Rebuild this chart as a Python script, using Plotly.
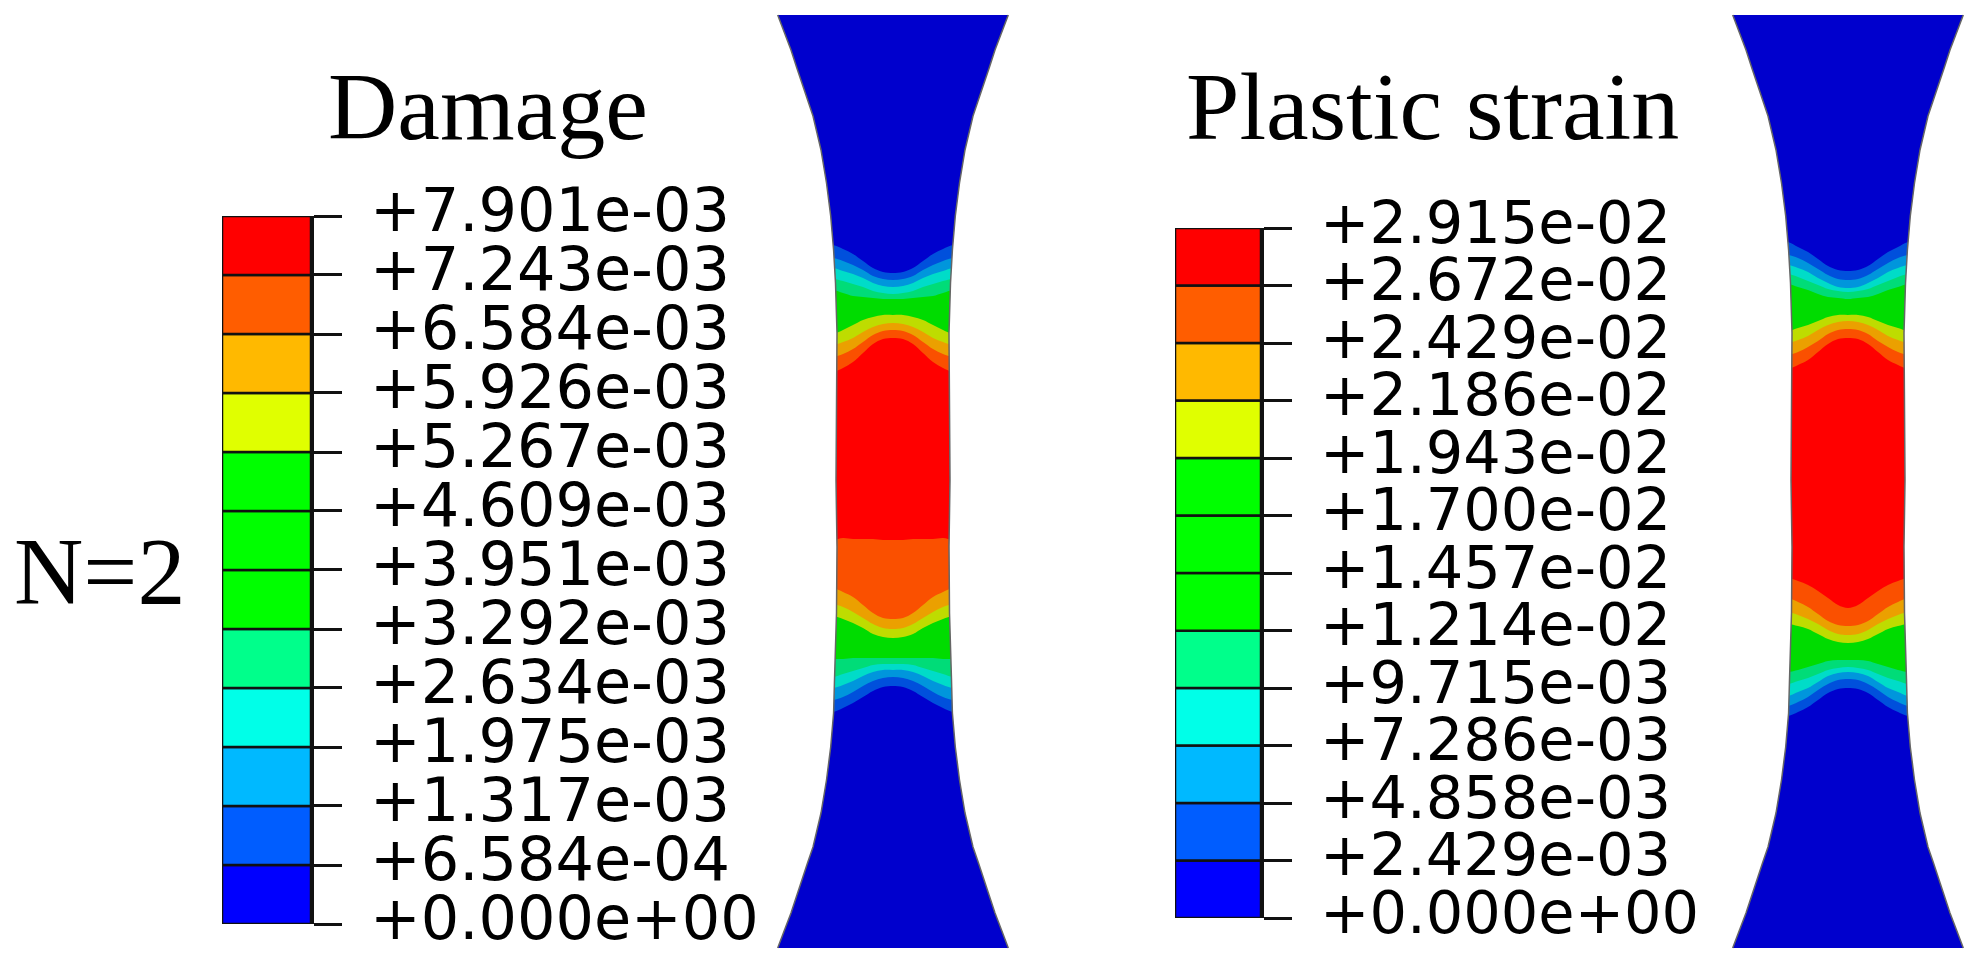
import plotly.graph_objects as go

W = 1983
H = 966

# contour levels, lowest first
damage_levels = [0.0, 6.584e-04, 1.317e-03, 1.975e-03, 2.634e-03, 3.292e-03, 3.951e-03,
                 4.609e-03, 5.267e-03, 5.926e-03, 6.584e-03, 7.243e-03, 7.901e-03]
damage_labels = ["+0.000e+00", "+6.584e-04", "+1.317e-03", "+1.975e-03", "+2.634e-03",
                 "+3.292e-03", "+3.951e-03", "+4.609e-03", "+5.267e-03", "+5.926e-03",
                 "+6.584e-03", "+7.243e-03", "+7.901e-03"]
strain_levels = [0.0, 2.429e-03, 4.858e-03, 7.286e-03, 9.715e-03, 1.214e-02, 1.457e-02,
                 1.700e-02, 1.943e-02, 2.186e-02, 2.429e-02, 2.672e-02, 2.915e-02]
strain_labels = ["+0.000e+00", "+2.429e-03", "+4.858e-03", "+7.286e-03", "+9.715e-03",
                 "+1.214e-02", "+1.457e-02", "+1.700e-02", "+1.943e-02", "+2.186e-02",
                 "+2.429e-02", "+2.672e-02", "+2.915e-02"]
bar_colors = ["#0000FF", "#005DFF", "#00B9FF", "#00FFE8", "#00FF8B", "#00FF00",
              "#00FF00", "#00FF00", "#E0FF00", "#FFB900", "#FF5D00", "#FF0000"]

# specimen outline: height and half width
edge_y = [15, 33, 50, 67, 83, 100, 116, 133, 150, 183, 216, 250, 283, 333, 480, 547,
          613, 680, 713, 747, 780, 813, 830, 847, 863, 880, 896, 913, 930, 948]
edge_hw = [115.3, 108.5, 102, 96.5, 91, 85.5, 80, 76, 72, 66.5, 62.3, 59.4, 57.5, 56, 57, 56,
           56.5, 58.5, 59.4, 62.3, 66.5, 72, 76, 80, 85.5, 91, 96.5, 102, 108.5, 115.3]

# horizontal distance from the specimen axis where band boundaries were read
band_dx = [0, 10, 20, 30, 40, 50, 60]

# band fills from the outer band to the inner one
band_colors = ["#0050DC", "#0096DC", "#00DCC8", "#00DC78", "#00DC00", "#BEDC00",
               "#EBA000", "#FA5000", "#FF0000"]

# upper and lower boundary of each band, same order as band_colors
damage_upper = [
    [273, 272, 268, 261, 254, 249, 245],
    [280, 279, 276, 270, 265, 261, 258],
    [287, 286, 283, 278, 274, 271, 268],
    [294, 293, 291, 287, 284, 281, 279],
    [299, 299, 298, 297, 296, 293, 290],
    [315, 315, 317, 320, 325, 330, 334],
    [323, 324, 327, 332, 338, 342, 345],
    [330, 331, 335, 342, 349, 354, 357],
    [338, 339, 344, 353, 362, 368, 372],
]
damage_lower = [
    [686, 687, 691, 697, 703, 708, 712],
    [677, 678, 681, 686, 692, 697, 700],
    [670, 670, 672, 676, 681, 685, 688],
    [664, 664, 665, 668, 671, 674, 677],
    [658, 658, 658, 658, 658, 659, 659],
    [638, 637, 634, 628, 623, 619, 616],
    [629, 628, 624, 618, 612, 607, 604],
    [619, 618, 613, 605, 597, 592, 588],
    [540, 540, 539, 539, 539, 538, 540],
]
strain_upper = [
    [271, 270, 266, 259, 252, 247, 242],
    [280, 279, 275, 269, 263, 258, 255],
    [288, 287, 283, 278, 272, 268, 265],
    [292, 291, 289, 285, 281, 277, 274],
    [299, 298, 297, 294, 290, 287, 284],
    [315, 315, 317, 321, 325, 328, 331],
    [321, 322, 325, 330, 336, 340, 343],
    [329, 330, 334, 341, 347, 352, 355],
    [338, 339, 344, 352, 360, 365, 369],
]
strain_lower = [
    [688, 689, 693, 700, 707, 712, 716],
    [679, 680, 684, 690, 697, 702, 706],
    [672, 673, 676, 682, 688, 692, 696],
    [667, 668, 670, 674, 678, 681, 684],
    [660, 660, 661, 664, 667, 670, 672],
    [643, 642, 639, 634, 629, 626, 624],
    [635, 634, 630, 624, 619, 615, 612],
    [626, 625, 621, 614, 607, 602, 598],
    [608, 605, 598, 591, 585, 581, 578],
]


def add_specimen(fig, cx, upper, lower):
    # blue block first, bands on top, then white covers cut the outline
    fig.add_trace(go.Scatter(
        x=[cx - 125, cx + 125, cx + 125, cx - 125, cx - 125],
        y=[edge_y[0], edge_y[0], edge_y[-1], edge_y[-1], edge_y[0]],
        mode="lines", fill="toself", fillcolor="#0000CD", line=dict(width=0),
        hoverinfo="skip", showlegend=False))
    for color, top, bottom in zip(band_colors, upper, lower):
        xs = [cx - 75] + [cx - d for d in band_dx[::-1][:-1]] + [cx + d for d in band_dx] + [cx + 75]
        ys = [top[-1]] + top[::-1][:-1] + top + [top[-1]]
        xb = xs[::-1]
        yb = [bottom[-1]] + bottom[::-1][:-1] + bottom + [bottom[-1]]
        fig.add_trace(go.Scatter(
            x=xs + xb, y=ys + yb, mode="lines", fill="toself", fillcolor=color,
            line=dict(width=0, shape="spline"), hoverinfo="skip", showlegend=False))
    for side in (-1, 1):
        xm = [cx + side * hw for hw in edge_hw]
        fig.add_trace(go.Scatter(
            x=xm + [cx + side * 135, cx + side * 135, xm[0]],
            y=edge_y + [edge_y[-1] + 1, edge_y[0] - 1, edge_y[0]],
            mode="lines", fill="toself", fillcolor="white", line=dict(width=0),
            hoverinfo="skip", showlegend=False))
        fig.add_trace(go.Scatter(
            x=xm, y=edge_y, mode="lines", line=dict(color="#666666", width=1.5),
            hoverinfo="skip", showlegend=False))


def add_scale(fig, n, levels, labels, px_left, px_right, px_top, px_bottom, label_x, size, shift):
    fig.add_trace(go.Bar(
        x=[0] * (len(levels) - 1),
        base=levels[:-1],
        y=[b - a for a, b in zip(levels[:-1], levels[1:])],
        width=1,
        marker=dict(color=bar_colors, line=dict(color="#111111", width=2.5)),
        cliponaxis=False, hoverinfo="skip", showlegend=False,
        xaxis="x%d" % n, yaxis="y%d" % n))
    fig.update_layout({
        "xaxis%d" % n: dict(domain=[px_left / W, px_right / W], range=[-0.5, 0.5], visible=False,
                            anchor="y%d" % n),
        "yaxis%d" % n: dict(domain=[1 - px_bottom / H, 1 - px_top / H], range=[levels[0], levels[-1]],
                            anchor="x%d" % n, side="right", showgrid=False, zeroline=False,
                            showline=True, linecolor="#111111", linewidth=2.5,
                            tickmode="array", tickvals=levels, ticktext=[""] * len(levels),
                            ticks="outside", ticklen=28, tickwidth=2.5, tickcolor="#111111"),
    })
    for level, label in zip(levels, labels):
        fig.add_annotation(
            x=label_x / W, xref="paper", xanchor="left", y=level, yref="y%d" % n, yanchor="middle",
            yshift=shift, text=label, showarrow=False,
            font=dict(family="DejaVu Sans", size=size, color="black"))


fig = go.Figure()
add_specimen(fig, 893, damage_upper, damage_lower)
add_specimen(fig, 1848, strain_upper, strain_lower)
add_scale(fig, 2, damage_levels, damage_labels, 222, 311, 216, 924, 368, 60.5, 6)
add_scale(fig, 3, strain_levels, strain_labels, 1175, 1261, 228, 918, 1318, 59, 6)

titles = [("Damage", 488, 106), ("Plastic strain", 1432, 106), ("N=2", 99, 571)]
for text, tx, ty in titles:
    fig.add_annotation(x=tx, y=ty, text=text, showarrow=False, xanchor="center", yanchor="middle",
                       font=dict(family="Liberation Serif", size=96, color="black"))

fig.update_layout(
    width=W, height=H,
    margin=dict(l=0, r=0, t=0, b=0),
    paper_bgcolor="white", plot_bgcolor="white",
    barmode="overlay",
    xaxis=dict(domain=[0, 1], range=[0, W], visible=False),
    yaxis=dict(domain=[0, 1], range=[H, 0], visible=False),
)

fig.write_html("out.html", config={"displayModeBar": False},
               post_script="document.body.style.margin='0';")
